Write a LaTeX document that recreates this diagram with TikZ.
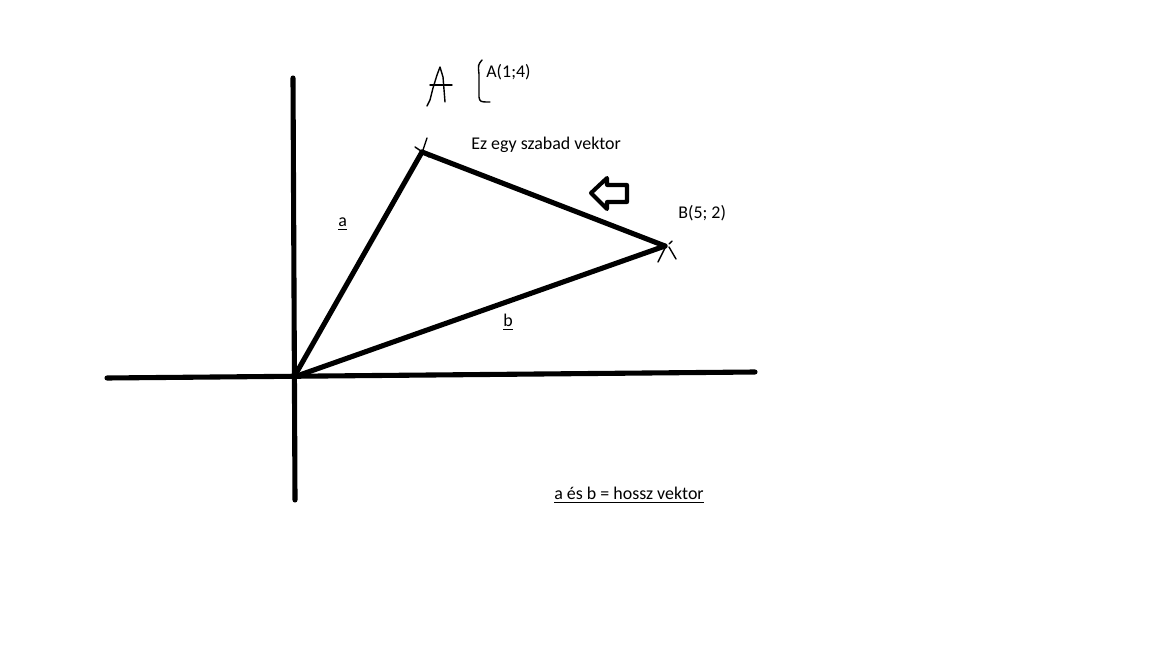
\documentclass[tikz,border=0pt]{standalone}
\usepackage{fontspec}
\setmainfont{Carlito}
\begin{document}
\begin{tikzpicture}[x=0.02cm, y=-0.02cm, line cap=round, line join=round]
\useasboundingbox (0,0) rectangle (1152,648);
\tikzset{vec/.style={line width=2.9pt},
  hand/.style={line width=0.8pt},
  lbl/.style={font=\fontsize{10.2}{12}\selectfont, inner sep=0pt, anchor=west}}
\coordinate (O) at (294,377);
\coordinate (A) at (422,152);
\coordinate (B) at (665,246);
\coordinate (Yt) at (293,78);
\coordinate (Yb) at (295,500);
\coordinate (Xl) at (107,378);
\coordinate (Xr) at (755,372);

\draw[vec] (Yt)--(Yb);
\draw[vec] (Xl)--(Xr);

\draw[vec] (O)--(A);
\draw[vec] (O)--(B);
\draw[vec] (A)--(B);

% ticks at the ends
\draw[hand] (427,138)--(423,150);
\draw[hand] (415,147)--(424,153)--(429,157);
\draw[hand] (665,248)--(658,262);
\draw[hand] (669,247)--(676,259);
\draw[hand] (669,244)--(672,241);

% hand-drawn A and bracket
\draw[hand] (427,106)--(430,100)--(433,88)--(437,75)--(440,67)--(443,77)--(445,102);
\draw[hand] (430,85)--(452,85);
\draw[hand] (482,60) .. controls (478,65) .. (479,74)--(479,97) .. controls (480,102) .. (490,102);

% left arrow
\draw[line width=2.3pt] (591,193)--(607,178)--(607,185)--(627,185)--(627,202)--(607,202)--(607,209)--cycle;

\node[lbl] (lA) at (486,72) {A(1;4)};
\node[lbl] (lsz) at (471,145) {Ez egy szabad vektor};
\node[lbl] (lB) at (678,213) {B(5; 2)};
\node[lbl] (la) at (338,224) {\underline{a}};
\node[lbl] (lb) at (503,322) {\underline{b}};
\node[lbl] (lh) at (554,495) {\underline{a és b = hossz vektor}};
\end{tikzpicture}
\end{document}
